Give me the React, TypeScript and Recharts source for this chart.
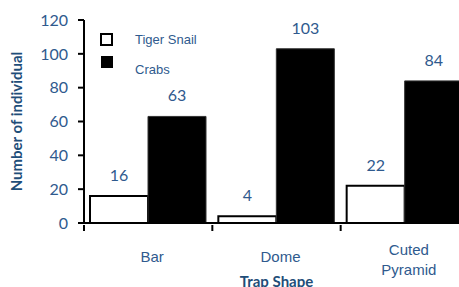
import React from 'react';
import { BarChart, Bar, XAxis, YAxis, LabelList } from 'recharts';

const trapShapes = ['Bar', 'Dome', 'Cuted Pyramid'];
const tigerSnail = [16, 4, 22];
const crabs = [63, 103, 84];
const yTicks = [0, 20, 40, 60, 80, 100, 120];
const seriesNames = ['Tiger Snail', 'Crabs'];

const data = trapShapes.map((shape, i) => ({
    shape,
    tigerSnail: tigerSnail[i],
    crabs: crabs[i],
}));

const BLUE = '#2F5A8E';
const TITLE_BLUE = '#1F4E79';
const NUM_FONT = 'Lato, "Open Sans", sans-serif';
const ARIAL = '"Liberation Sans", Arial, sans-serif';

// plot spans x 84..469, three bands
const BAND = (469 - 84) / 3;

const ShapeTick = (props: any) => {
    const { x, y, payload } = props;
    const words: string[] = payload.value.split(' ');
    const lines = words.length > 1 ? words : [payload.value];
    const startY = lines.length > 1 ? 24 : 31;
    return (
        <g>
            <line x1={x - BAND / 2} y1={y - 6} x2={x - BAND / 2} y2={y} stroke="#000" strokeWidth={2} />
            <text x={x + 4} y={y} textAnchor="middle" fill={BLUE} fontFamily={ARIAL} fontSize={15}>
                {lines.map((ln, i) => (
                    <tspan key={ln} x={x + 4} dy={i === 0 ? startY : 20}>{ln}</tspan>
                ))}
            </text>
        </g>
    );
};

// legend drawn as an overlay so it does not shift the plot area
const LegendBox = () => (
    <div style={{ position: 'absolute', left: 100, top: 33, fontFamily: ARIAL, fontSize: 13, color: BLUE }}>
        <div style={{ position: 'relative', height: 23 }}>
            <span style={{ position: 'absolute', left: 0, top: 0, width: 9, height: 9, border: '2px solid #000', background: '#fff' }} />
            <span style={{ position: 'absolute', left: 35, top: -1, whiteSpace: 'nowrap' }}>{seriesNames[0]}</span>
        </div>
        <div style={{ position: 'relative', height: 23 }}>
            <span style={{ position: 'absolute', left: 1, top: 0, width: 12, height: 12, background: '#000' }} />
            <span style={{ position: 'absolute', left: 35, top: 6, whiteSpace: 'nowrap' }}>{seriesNames[1]}</span>
        </div>
    </div>
);

const App: React.FC = () => {
    return (
        <div style={{ position: 'absolute', left: 0, top: 0, width: 459, height: 287, overflow: 'hidden', background: '#fff' }}>
            <BarChart
                width={469}
                height={287}
                data={data}
                margin={{ top: 20, right: 0, left: 0, bottom: 0 }}
                barCategoryGap={6}
                barGap={0}
            >
                <XAxis
                    dataKey="shape"
                    height={64}
                    axisLine={{ stroke: '#000', strokeWidth: 2 }}
                    tickLine={false}
                    tickSize={6}
                    tick={<ShapeTick />}
                    interval={0}
                    label={{
                        value: 'Trap Shape',
                        position: 'insideBottom',
                        offset: 0,
                        dx: 0,
                        fill: TITLE_BLUE,
                        fontFamily: NUM_FONT,
                        fontWeight: 700,
                        fontSize: 15,
                    }}
                />
                <YAxis
                    width={84}
                    domain={[0, 120]}
                    ticks={yTicks}
                    interval={0}
                    axisLine={{ stroke: '#000', strokeWidth: 2 }}
                    tickLine={{ stroke: '#000', strokeWidth: 2 }}
                    tickSize={6}
                    tickMargin={10}
                    tick={{ fill: BLUE, fontFamily: NUM_FONT, fontSize: 16 }}
                    label={{
                        value: 'Number of individual',
                        angle: -90,
                        position: 'insideLeft',
                        offset: 17,
                        fill: TITLE_BLUE,
                        fontFamily: NUM_FONT,
                        fontWeight: 700,
                        fontSize: 15,
                        style: { textAnchor: 'middle' },
                    }}
                />
                <Bar dataKey="tigerSnail" name={seriesNames[0]} fill="#fff" stroke="#000" strokeWidth={2} isAnimationActive={false}>
                    <LabelList dataKey="tigerSnail" position="top" offset={15} fill={BLUE} fontFamily={NUM_FONT} fontSize={16} />
                </Bar>
                <Bar dataKey="crabs" name={seriesNames[1]} fill="#000" stroke="#333" strokeWidth={1} isAnimationActive={false}>
                    <LabelList dataKey="crabs" position="top" offset={15} fill={BLUE} fontFamily={NUM_FONT} fontSize={16} />
                </Bar>
            </BarChart>
            <LegendBox />
        </div>
    );
};

export default App;
